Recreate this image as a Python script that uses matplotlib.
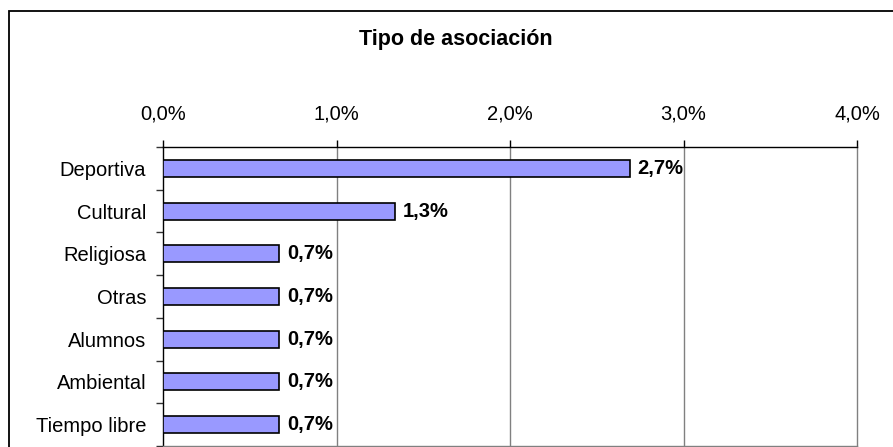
import matplotlib
matplotlib.use("Agg")
import matplotlib.pyplot as plt
from matplotlib.patches import Rectangle

categories = ["Deportiva", "Cultural", "Religiosa", "Otras", "Alumnos", "Ambiental", "Tiempo libre"]
values = [2.69, 1.34, 0.67, 0.67, 0.67, 0.67, 0.67]
value_labels = ["2,7%", "1,3%", "0,7%", "0,7%", "0,7%", "0,7%", "0,7%"]
x_ticks = [0, 1, 2, 3, 4]
x_tick_labels = ["0,0%", "1,0%", "2,0%", "3,0%", "4,0%"]
title = "Tipo de asociación"

plt.rcParams['font.family'] = ['Liberation Sans', 'DejaVu Sans']

W, H = 893, 447
fig = plt.figure(figsize=(W / 100, H / 100), dpi=100)

# figure border (extends beyond right and bottom edges)
fig.patches.append(Rectangle((9 / W, -0.05), 1.2, 1 - 11 / H + 0.05, transform=fig.transFigure,
                             fill=False, edgecolor="black", linewidth=1.3))

ax = fig.add_axes([163 / W, 1 / H, (857 - 163) / W, (446 - 147) / H])

ypos = list(range(len(categories)))
ax.barh(ypos, values, height=0.4, color="#9999FF", edgecolor="black", linewidth=1.2, zorder=3)

for y, v, lab in zip(ypos, values, value_labels):
    ax.annotate(lab, xy=(v, y), xytext=(5.5, 0), textcoords="offset points",
                ha="left", va="center", fontsize=14.5, fontweight="bold", zorder=4)

ax.set_xlim(0, 4)
ax.set_ylim(len(categories) - 0.5, -0.5)

ax.xaxis.tick_top()
ax.set_xticks(x_ticks)
ax.set_xticklabels(x_tick_labels, fontsize=14.5)
ax.tick_params(axis="x", direction="out", length=5, width=1, color="black", pad=12)

ax.set_yticks([i - 0.5 for i in range(len(categories) + 1)])
ax.set_yticklabels([])
ax.set_yticks(ypos, minor=True)
ax.set_yticklabels(categories, minor=True, fontsize=14.5)
ax.tick_params(axis="y", which="major", direction="out", length=5, width=1, color="#333333")
ax.tick_params(axis="y", which="minor", length=0, pad=12)

for x in [1, 2, 3]:
    ax.axvline(x, color="#808080", linewidth=1, zorder=1)

ax.spines["top"].set_color("black")
ax.spines["left"].set_color("black")
ax.spines["right"].set_color("#808080")
ax.spines["bottom"].set_color("#808080")
for s in ax.spines.values():
    s.set_linewidth(1)

fig.text(456 / W, 1 - 40 / H, title, ha="center", va="center", fontsize=15.5, fontweight="bold")

fig.savefig("out.png", dpi=100)
